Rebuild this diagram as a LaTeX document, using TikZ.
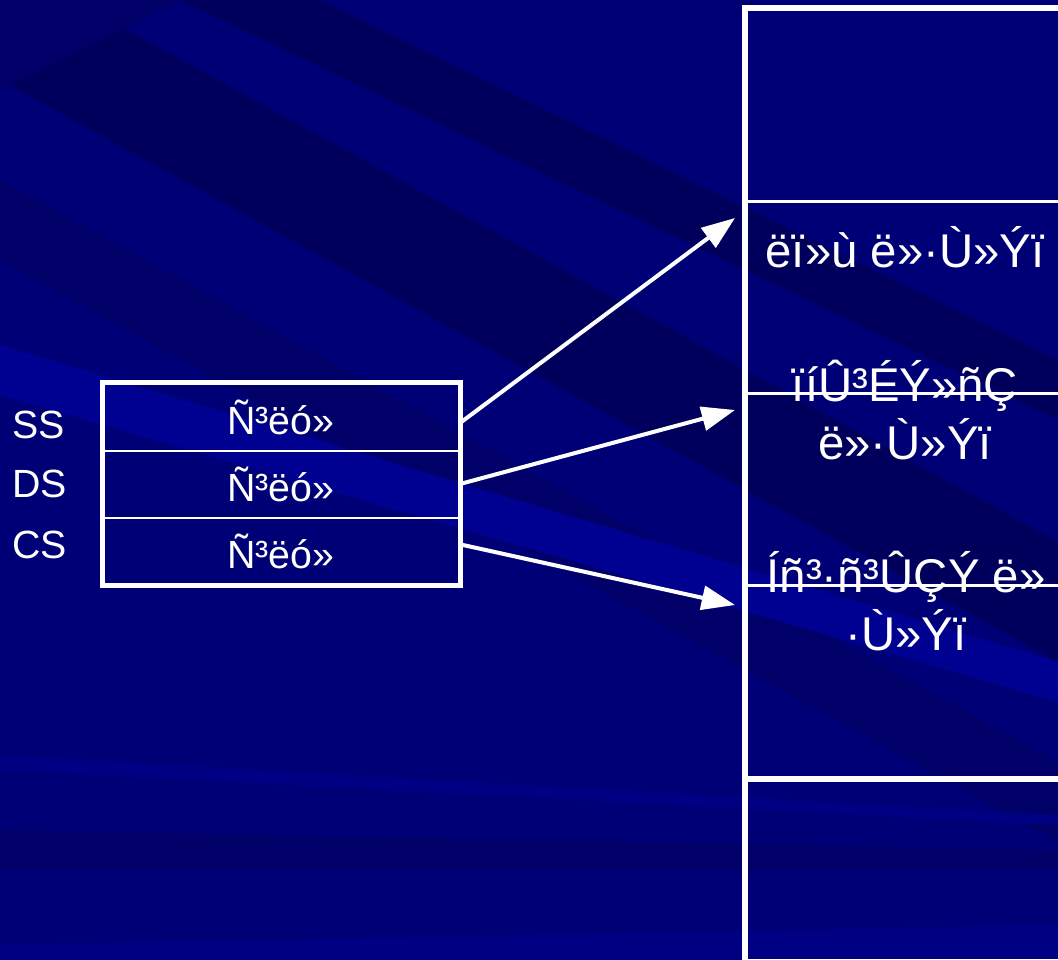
\documentclass[tikz,border=0pt]{standalone}
\usepackage{fontspec}
\setmainfont{Liberation Sans}
\usetikzlibrary{arrows.meta}
\definecolor{navy}{RGB}{0,0,118}
\definecolor{deepnavy}{RGB}{0,0,92}
\definecolor{midnavy}{RGB}{0,0,104}
\definecolor{lightnavy}{RGB}{0,0,130}
\definecolor{brightnavy}{RGB}{0,0,145}
\begin{document}
\begin{tikzpicture}[x=0.75pt,y=-0.75pt,node distance={50.25pt},
  row/.style = {draw=white, line width=1.5pt, inner sep=0pt, minimum width=267pt, minimum height=50.25pt, text=white, font=\fontsize{29.5}{35}\selectfont},
  seg/.style = {draw=white, line width=2.25pt, inner sep=0pt, minimum width=238.5pt, minimum height=144pt, node distance={144pt}},
  lbl/.style = {text=white, font=\fontsize{29.5}{35}\selectfont, anchor=west, inner sep=0pt},
  big/.style = {text=white, font=\fontsize{35.5}{43.5}\selectfont, align=center, inner sep=0pt},
  link/.style = {draw=white, line width=3pt, -{Triangle[length=25pt,width=18pt]}}]
\useasboundingbox (0,0) rectangle (1058,960);
% background
\begin{scope}
\clip (0,0) rectangle (1058,960);
\fill[navy] (0,0) rectangle (1058,960);
\fill[deepnavy] (0,-40) -- (1058,542) -- (1058,662) -- (0,80) -- cycle;
\fill[midnavy] (0,180) -- (1058,762) -- (1058,842) -- (0,260) -- cycle;
\fill[deepnavy] (320,0) -- (1058,360) -- (1058,420) -- (180,0) -- cycle;
\fill[midnavy] (0,0) -- (180,0) -- (0,90) -- cycle;
\fill[brightnavy] (0,345) -- (1058,662) -- (1058,702) -- (0,395) -- cycle;
\fill[lightnavy] (0,755) -- (1058,815) -- (1058,825) -- (0,770) -- cycle;
\fill[midnavy] (0,830) -- (1058,850) -- (1058,870) -- (0,870) -- cycle;
\fill[lightnavy] (0,945) -- (1058,925) -- (1058,960) -- (0,960) -- cycle;
\end{scope}
% left box
\node[row] (ss) at (281,417) {Ñ³ëó»};
\node[row] (ds) [below of=ss] {Ñ³ëó»};
\node[row] (cs) [below of=ds] {Ñ³ëó»};
\draw[white, line width=3.75pt] (ss.north west) rectangle (cs.south east);
\node[lbl] (sslbl) at (12,425) {SS};
\node[lbl] (dslbl) at (12,484) {DS};
\node[lbl] (cslbl) at (12,545) {CS};
% right box
\node[seg] (seg1) at (905,105) {};
\node[seg] (seg2) [below of=seg1] {};
\node[seg] (seg3) [below of=seg2] {};
\node[seg] (seg4) [below of=seg3] {};
\node[seg, minimum height=135pt, anchor=north] (seg5) at (seg4.south) {};
\draw[white, line width=4.5pt] (seg1.north west) rectangle (seg5.south east);
\node[big, anchor=base] (txt1) at (905,267) {ëï»ù ë»·Ù»Ýï};
\node[big] (txt2) at (905,410) {ïíÛ³ÉÝ»ñÇ\\ë»·Ù»Ýï};
\node[big] (txt3) at (906,601) {Íñ³·ñ³ÛÇÝ ë»\\·Ù»Ýï};
% arrows
\coordinate (t1) at (735,218);
\coordinate (t2) at (735,410);
\coordinate (t3) at (735,605);
\draw[link] ([yshift=-4.5pt]ss.east) -- (t1);
\draw[link] (ds.east) -- (t2);
\draw[link] ([yshift=5pt]cs.east) -- (t3);
\end{tikzpicture}
\end{document}
